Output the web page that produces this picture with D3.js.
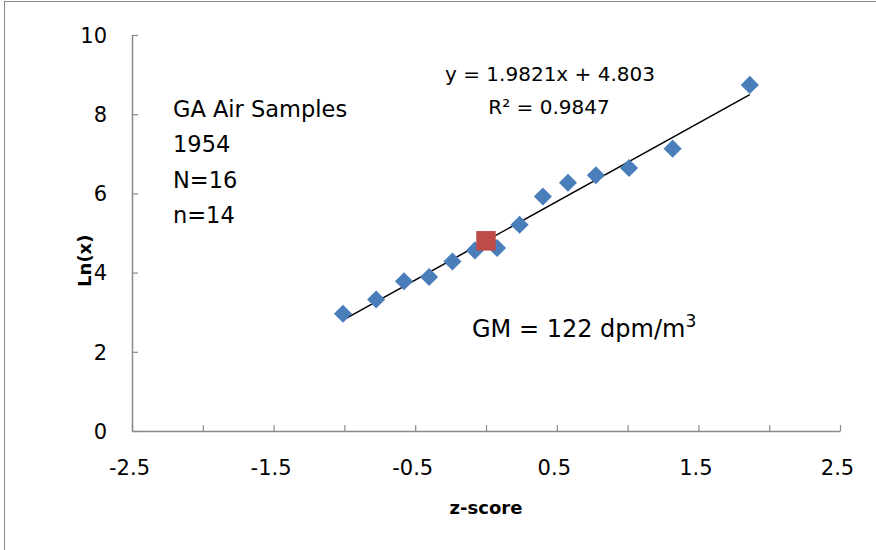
<!DOCTYPE html>
<html>
<head>
<meta charset="utf-8">
<script src="https://cdn.jsdelivr.net/npm/d3@7"></script>
<style>
  body { margin: 0; background: #fff; }
  svg { display: block; font-family: "DejaVu Sans", sans-serif; }
</style>
</head>
<body>
<div id="chart"></div>
<script>
// z-scores (normal quantiles) and ln of sample values
const zScores = [-1.010, -0.776, -0.579, -0.402, -0.237, -0.078, 0.078, 0.237, 0.402, 0.579, 0.776, 1.010, 1.318, 1.863];
const lnValues = [2.96, 3.32, 3.78, 3.89, 4.28, 4.56, 4.62, 5.21, 5.92, 6.27, 6.46, 6.64, 7.13, 8.74];
const gmPoint = [0, 4.803];
const slope = 1.9821, intercept = 4.803;
const xTicks = [-2.5, -1.5, -0.5, 0.5, 1.5, 2.5];
const yTicks = [0, 2, 4, 6, 8, 10];
const infoLines = ["GA Air Samples", "1954", "N=16", "n=14"];

const width = 876, height = 550;
const margin = { top: 35, right: 36, bottom: 119, left: 132 };

const x = d3.scaleLinear([-2.5, 2.5], [margin.left, width - margin.right]);
const y = d3.scaleLinear([0, 10], [height - margin.bottom, margin.top]);

const svg = d3.select('#chart').append('svg')
  .attr('width', width)
  .attr('height', height);

// outer frame
svg.append('rect')
  .attr('x', 4.5).attr('y', 1.5)
  .attr('width', width + 10).attr('height', height + 10)
  .attr('fill', 'none').attr('stroke', '#888');

const axisColor = '#898989';
const fmtX = d => (d < 0 ? '-' : '') + d3.format('.1f')(Math.abs(d));

// x axis: ticks every 0.5, labels only on the half values
const xg = svg.append('g')
  .attr('transform', `translate(0,${y(0)})`)
  .call(d3.axisBottom(x)
    .tickValues(d3.range(-2.5, 2.51, 0.5))
    .tickSizeInner(-6)
    .tickSizeOuter(0)
    .tickPadding(28)
    .tickFormat(d => xTicks.some(t => Math.abs(t - d) < 1e-9) ? fmtX(d) : ''));

// y axis
const yg = svg.append('g')
  .attr('transform', `translate(${x(-2.5)},0)`)
  .call(d3.axisLeft(y)
    .tickValues(yTicks)
    .tickSizeInner(-6)
    .tickSizeOuter(0)
    .tickPadding(25)
    .tickFormat(d3.format('d')));

[xg, yg].forEach(g => {
  g.select('.domain').attr('stroke', axisColor).attr('stroke-width', 1.5);
  g.selectAll('.tick line').attr('stroke', axisColor).attr('stroke-width', 1.2);
  g.selectAll('.tick text')
    .attr('fill', '#000')
    .style('font-size', '21px')
    .style('font-family', '"DejaVu Sans", sans-serif');
});
xg.selectAll('.tick text').attr('dy', '0.35em').attr('y', 37).attr('dx', -3);
yg.selectAll('.tick text').attr('dy', '0.35em');

// axis titles
svg.append('text')
  .attr('x', x(0))
  .attr('y', 514)
  .attr('text-anchor', 'middle')
  .style('font-size', '18px')
  .style('font-weight', 'bold')
  .text('z-score');

svg.append('text')
  .attr('transform', `translate(91,${y(4.3)}) rotate(-90)`)
  .attr('text-anchor', 'middle')
  .style('font-size', '18px')
  .style('font-weight', 'bold')
  .text('Ln(x)');

// trend line
const zExtent = d3.extent(zScores);
svg.append('line')
  .attr('x1', x(zExtent[0])).attr('y1', y(slope * zExtent[0] + intercept))
  .attr('x2', x(zExtent[1])).attr('y2', y(slope * zExtent[1] + intercept))
  .attr('stroke', '#000')
  .attr('stroke-width', 1.5);

// data points (diamonds)
const points = zScores.map((z, i) => [z, lnValues[i]]);
svg.append('g')
  .selectAll('path')
  .data(points)
  .join('path')
  .attr('transform', d => `translate(${x(d[0])},${y(d[1])}) rotate(45)`)
  .attr('d', d3.symbol(d3.symbolSquare, 164))
  .attr('fill', '#4a7ebb');

// geometric mean point
svg.append('path')
  .attr('transform', `translate(${x(gmPoint[0])},${y(gmPoint[1])})`)
  .attr('d', d3.symbol(d3.symbolSquare, 380))
  .attr('fill', '#be4b48');

// trend equation
svg.append('text')
  .attr('x', 550).attr('y', 81)
  .attr('text-anchor', 'middle')
  .style('font-size', '20px')
  .text('y = 1.9821x + 4.803');
svg.append('text')
  .attr('x', 549).attr('y', 114)
  .attr('text-anchor', 'middle')
  .style('font-size', '20px')
  .text('R² = 0.9847');

// sample info
svg.append('g')
  .selectAll('text')
  .data(infoLines)
  .join('text')
  .attr('x', 173)
  .attr('y', (d, i) => 117 + i * 35.3)
  .style('font-size', '22.5px')
  .text(d => d);

// geometric mean label
const gm = svg.append('text')
  .attr('x', 472).attr('y', 337)
  .style('font-size', '24px')
  .text('GM = 122 dpm/m');
gm.append('tspan')
  .attr('dy', -10)
  .style('font-size', '17px')
  .text('3');
</script>
</body>
</html>
